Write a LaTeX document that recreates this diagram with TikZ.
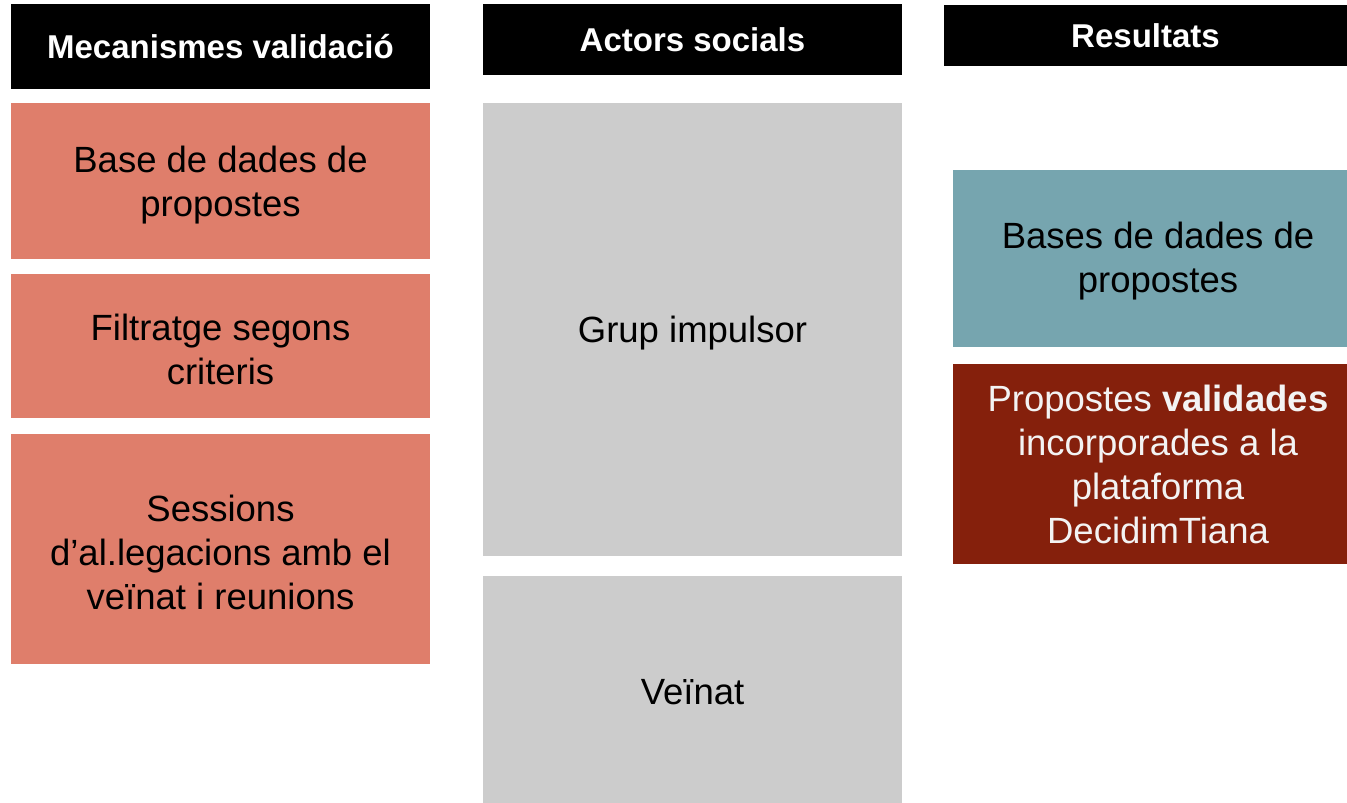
\documentclass[tikz,border=0pt]{standalone}
\usepackage{fontspec}
\setmainfont{Liberation Sans}
\usetikzlibrary{positioning}
\definecolor{salmon}{HTML}{DF7E6B}
\definecolor{lightgrey}{HTML}{CCCCCC}
\definecolor{teal}{HTML}{76A5AF}
\definecolor{darkred}{HTML}{85200C}
\definecolor{offwhite}{HTML}{F3F3F3}
\tikzset{
  header/.style={
    fill=black,
    text=white,
    font=\fontsize{33}{40}\selectfont\bfseries,
    inner sep=0pt
  },
  cell/.style={
    inner sep=0pt,
    align=center,
    font=\fontsize{36.5}{44}\selectfont
  }
}
\begin{document}
\begin{tikzpicture}[x=1pt,y=-1pt]
  \useasboundingbox (0,0) rectangle (1347,803);
  % capcaleres
  \node [header, minimum width=419pt, minimum height=85pt] (hMec) at (220.5,46.5) {Mecanismes validació};
  \node [header, minimum width=419pt, minimum height=71pt] (hAct) at (692.5,39.5) {Actors socials};
  \node [header, minimum width=403pt, minimum height=61pt] (hRes) at (1145.5,35.5) {Resultats};
  % mecanismes
  \node [cell, fill=salmon, minimum width=419pt, minimum height=156pt] (base) at (220.5,181) {};
  \node [cell] at ([yshift=-4pt]base.center) {Base de dades de\\propostes};
  \node [cell, fill=salmon, minimum width=419pt, minimum height=144pt] (filt) at (220.5,346) {};
  \node [cell] at ([yshift=-3pt]filt.center) {Filtratge segons\\criteris};
  \node [cell, fill=salmon, minimum width=419pt, minimum height=230pt] (sess) at (220.5,549) {};
  \node [cell] at ([yshift=-3pt]sess.center) {Sessions\\d’al.legacions amb el\\veïnat i reunions};
  % actors
  \node [cell, fill=lightgrey, minimum width=419pt, minimum height=453pt] (grup) at (692.5,329.5) {};
  \node [cell] at ([yshift=-4pt]grup.center) {Grup impulsor};
  \node [cell, fill=lightgrey, minimum width=419pt, minimum height=227pt] (vein) at (692.5,689.5) {};
  \node [cell] at ([yshift=-3pt]vein.center) {Veïnat};
  % resultats
  \node [cell, fill=teal, minimum width=394pt, minimum height=177pt] (bases) at (1150,258.5) {};
  \node [cell] at ([xshift=8pt,yshift=-3pt]bases.center) {Bases de dades de\\propostes};
  \node [cell, fill=darkred, minimum width=394pt, minimum height=200pt] (valid) at (1150,464) {};
  \node [cell, text=offwhite] at ([xshift=8pt]valid.center) {Propostes \textbf{validades}\\incorporades a la\\plataforma\\DecidimTiana};
\end{tikzpicture}
\end{document}
